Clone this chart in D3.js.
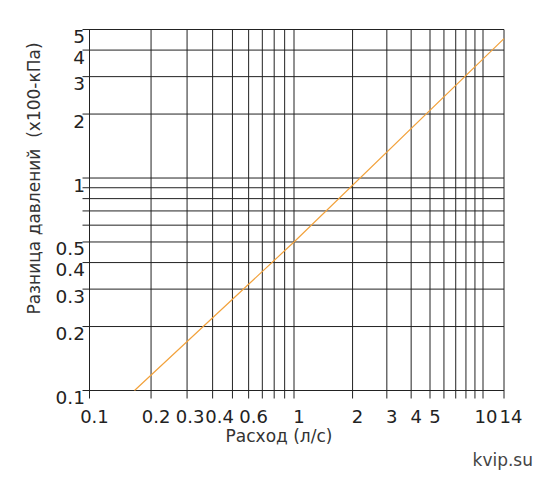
<!DOCTYPE html>
<html>
<head>
<meta charset="utf-8">
<script src="https://d3js.org/d3.v7.min.js"></script>
<style>
	body { margin: 0; background: #fff; }
	text { font-family: "DejaVu Sans", sans-serif; }
</style>
</head>
<body>
<script>
	// Width and height of chart
	var width = 548;
	var height = 481;

	// flow (l/s) gridlines and labels
	var flowGrid = [0.1, 0.2, 0.3, 0.4, 0.5, 0.6, 0.7, 0.8, 0.9, 1, 2, 3, 4, 5, 6, 7, 8, 9, 10, 14];
	var flowLabels = [0.1, 0.2, 0.3, 0.4, 0.6, 1, 2, 3, 4, 5, 10, 14];

	// pressure difference (x100 kPa) gridlines and labels
	var pressGrid = [0.1, 0.2, 0.3, 0.4, 0.5, 0.6, 0.7, 0.8, 0.9, 1, 2, 3, 4, 5];
	var pressLabels = [0.1, 0.2, 0.3, 0.4, 0.5, 1, 2, 3, 4, 5];

	// the curve
	var flow = [0.166, 1, 14];
	var press = [0.1, 0.5, 4.53];

	var svg = d3.select("body")
		.append("svg")
		.attr("width", width)
		.attr("height", height);

	// the printed grid is not quite a true log, so piecewise log scale
	var x = d3.scaleLog()
		.domain([0.1, 1, 5, 10, 14])
		.range([89.5, 294, 430, 483, 504]);

	var y = d3.scaleLog()
		.domain([0.1, 5])
		.range([390.5, 29.5]);

	// vertical gridlines (stick out below the axis)
	svg.selectAll("line.vgrid")
		.data(flowGrid)
		.enter()
		.append("line")
		.attr("class", "vgrid")
		.attr("x1", function(d) { return x(d); })
		.attr("x2", function(d) { return x(d); })
		.attr("y1", y(5))
		.attr("y2", y(0.1) + 8)
		.style("stroke", "#222")
		.style("stroke-width", "1");

	// horizontal gridlines (stick out left of the axis)
	svg.selectAll("line.hgrid")
		.data(pressGrid)
		.enter()
		.append("line")
		.attr("class", "hgrid")
		.attr("x1", x(0.1) - 7)
		.attr("x2", x(14))
		.attr("y1", function(d) { return y(d); })
		.attr("y2", function(d) { return y(d); })
		.style("stroke", "#222")
		.style("stroke-width", "1");

	// tick labels, the crowded ones pushed apart a touch
	var nudge = function(d) {
		if (d == 14) return 7;
		if (d == 10) return 3;
		if (d == 0.4) return 7;
		if (d == 0.3) return 3;
		return 5;
	};

	svg.selectAll("text.xlab")
		.data(flowLabels)
		.enter()
		.append("text")
		.attr("class", "xlab")
		.attr("x", function(d) { return x(d) + nudge(d); })
		.attr("y", 423)
		.attr("text-anchor", "middle")
		.style("font-size", "18px")
		.style("fill", "#222")
		.text(function(d) { return d; });

	svg.selectAll("text.ylab")
		.data(pressLabels)
		.enter()
		.append("text")
		.attr("class", "ylab")
		.attr("x", 85)
		.attr("y", function(d) { return y(d) + 13.5; })
		.attr("text-anchor", "end")
		.style("font-size", "18.5px")
		.style("fill", "#222")
		.text(function(d) { return d; });

	// the curve
	var line = d3.line()
		.x(function(d, i) { return x(flow[i]); })
		.y(function(d, i) { return y(press[i]); });

	svg.append("path")
		.attr("d", line(flow))
		.style("fill", "none")
		.style("stroke", "#f2a23c")
		.style("stroke-width", "1.2");

	// axis titles
	svg.append("text")
		.attr("x", 279)
		.attr("y", 442)
		.attr("text-anchor", "middle")
		.style("font-size", "17px")
		.style("fill", "#333")
		.text("Расход (л/с)");

	svg.append("text")
		.attr("transform", "translate(40,178.5) rotate(-90)")
		.attr("text-anchor", "middle")
		.style("font-size", "17px")
		.style("fill", "#333")
		.style("white-space", "pre")
		.text("Разница давлений  (x100-кПа)");

	svg.append("text")
		.attr("x", 533)
		.attr("y", 466)
		.attr("text-anchor", "end")
		.style("font-size", "17px")
		.style("fill", "#444")
		.text("kvip.su");
</script>
</body>
</html>
